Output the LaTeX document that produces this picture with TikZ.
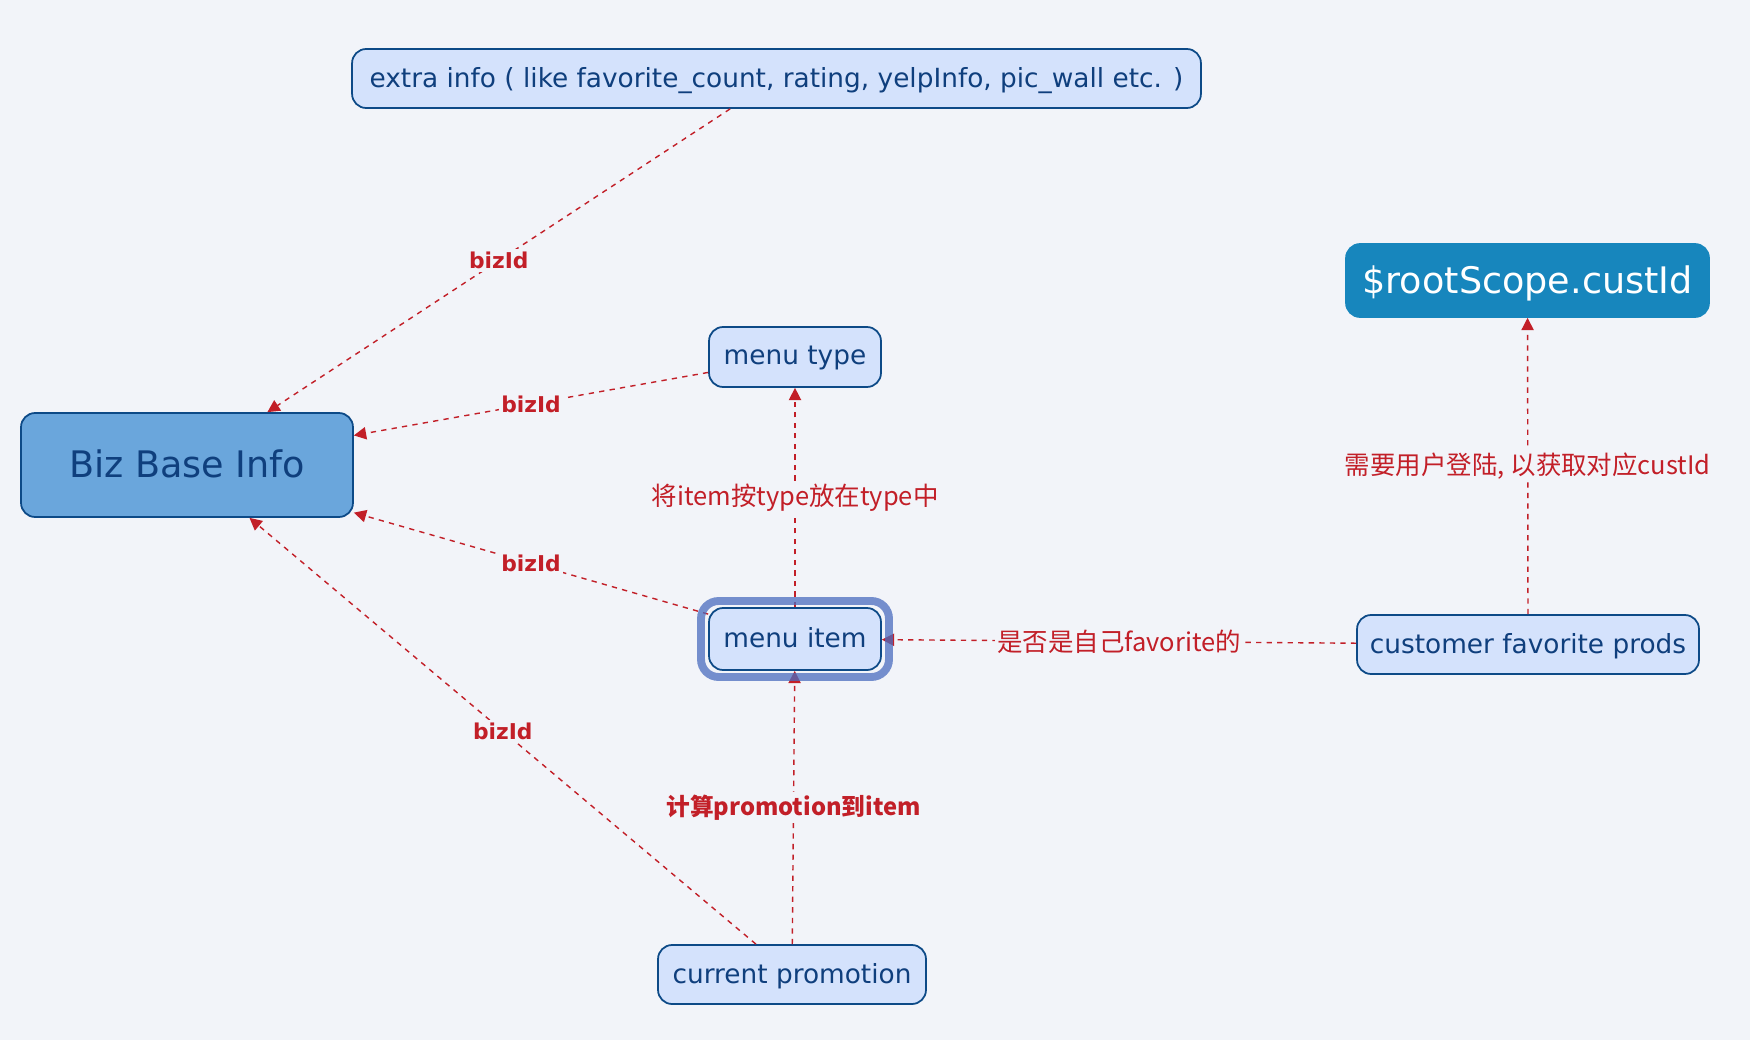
\documentclass[tikz,border=0pt]{standalone}
\usepackage{fontspec}
\setmainfont{DejaVu Sans}
\newfontfamily\cjk{Noto Sans CJK SC}
\usetikzlibrary{arrows.meta}
\definecolor{bg}{HTML}{F2F4F9}
\definecolor{boxfill}{HTML}{D4E2FC}
\definecolor{boxline}{HTML}{0D4A87}
\definecolor{boxtext}{HTML}{0F3F7D}
\definecolor{bizfill}{HTML}{6AA6DC}
\definecolor{rootfill}{HTML}{1786BD}
\definecolor{linkred}{HTML}{C21F28}
\definecolor{selframe}{HTML}{4B6DBF}

\begin{document}
\begin{tikzpicture}[x=0.02cm, y=-0.02cm,
  box/.style={draw=boxline, fill=boxfill, line width=1pt, rounded corners=8pt,
    text=boxtext, inner sep=0pt, text depth=0.15em, font=\fontsize{15}{18}\selectfont},
  link/.style={draw=linkred, dashed, line width=0.8pt,
    -{Triangle[length=7pt,width=7pt]}},
  lbl/.style={fill=bg, text=linkred, inner sep=1.5pt, font=\cjk\fontsize{14.5}{17}\selectfont},
  idlbl/.style={lbl, font=\bfseries\fontsize{12.4}{15}\selectfont}]
  \fill[bg] (0,0) rectangle (1750,1040);

  % boxes
  \node[box, minimum width=16.98cm, minimum height=1.18cm] (extra) at (776.5,78.5)
    {extra info ( like favorite\_count, rating, yelpInfo, pic\_wall etc. )};
  \node[box, fill=bizfill, minimum width=6.64cm, minimum height=2.08cm,
    font=\fontsize{20.8}{25}\selectfont] (biz) at (187,465) {Biz Base Info};
  \node[box, minimum width=3.44cm, minimum height=1.2cm] (mtype) at (795,357) {menu type};
  \node[box, minimum width=3.44cm, minimum height=1.24cm] (mitem) at (795,639) {menu item};
  \node[box, minimum width=6.84cm, minimum height=1.18cm] (cust) at (1528,644.5)
    {customer favorite prods};
  \node[box, draw=rootfill, fill=rootfill, text=white, minimum width=7.26cm,
    minimum height=1.46cm, font=\fontsize{20.8}{25}\selectfont] (root) at (1527.5,280.5)
    {\$rootScope.custId};
  \node[box, minimum width=5.36cm, minimum height=1.18cm] (promo) at (792,974.5)
    {current promotion};

  % links
  \draw[link] (extra) -- node[idlbl] {bizId} (biz);
  \draw[link] (mtype) -- node[idlbl] {bizId} (biz);
  \draw[link] (mitem) -- node[idlbl] {bizId} (biz);
  \draw[link] (promo) -- node[idlbl] {bizId} (biz);
  \draw[link] (mitem) -- node[lbl] {将item按type放在type中} (mtype);
  \draw[link] (promo) -- node[lbl, font=\cjk\bfseries\fontsize{13.5}{16}\selectfont]
    {计算promotion到item} (mitem);
  \draw[link] (cust) -- node[lbl] {是否是自己favorite的} (mitem);
  \draw[link] (cust) -- node[lbl] {需要用户登陆, 以获取对应custId} (root);

  % selection frame
  \node[draw=selframe, line width=4.5pt, rounded corners=10pt, opacity=0.75,
    minimum width=3.76cm, minimum height=1.52cm] (mitemsel) at (795,639) {};
\end{tikzpicture}
\end{document}
